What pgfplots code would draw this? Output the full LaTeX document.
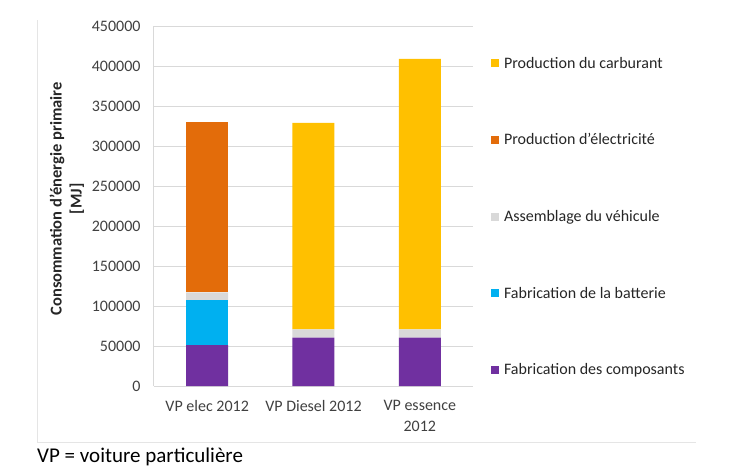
\documentclass[border=0pt]{standalone}
\usepackage{fontspec}
\setmainfont{Carlito}
\usepackage{pgfplots}
\pgfplotsset{compat=1.18}
\definecolor{cpurple}{HTML}{7030A0}
\definecolor{cblue}{HTML}{00B0F0}
\definecolor{cgray}{HTML}{D9D9D9}
\definecolor{corange}{HTML}{E36C0A}
\definecolor{cyellow}{HTML}{FFC000}
\definecolor{gridc}{HTML}{D9D9D9}
\definecolor{txt}{HTML}{404040}
\begin{document}
\begin{tikzpicture}
\useasboundingbox (0pt,0pt) rectangle (732pt,472pt);
\draw[color=black!10, line width=1pt] (37pt,452pt) -- (37pt,30pt) -- (696pt,30pt);
\begin{axis}[
  at={(154pt,86pt)}, anchor=south west,
  scale only axis, width=319pt, height=360pt,
  ybar stacked, bar width=42pt,
  xmin=-0.5, xmax=2.5, ymin=0, ymax=450000,
  xtick={0,1,2}, xticklabels={VP elec 2012, VP Diesel 2012, {VP essence\\2012}},
  xticklabel style={align=center, font=\fontsize{16}{20.5}\selectfont, text=txt, yshift=-11pt},
  extra x ticks={-0.5,0.5,1.5,2.5}, extra x tick labels={},
  extra x tick style={major tick length=5pt, tick style={draw=gridc}, grid=none},
  major x tick style={draw=none},
  ytick={0,50000,...,450000},
  scaled y ticks=false,
  yticklabel style={/pgf/number format/fixed, /pgf/number format/1000 sep={}, /pgf/number format/assume math mode=true, font=\fontsize{16}{20}\selectfont, text=txt},
  ymajorgrids, grid style={gridc, line width=1pt},
  major tick length=4pt,
  tick style={gridc, line width=1pt},
  y tick label style={xshift=-10pt},
  axis x line*=bottom, axis y line*=left,
  axis line style={gridc, line width=1pt},
  x axis line style={-}, y axis line style={-},
  ylabel={Consommation d'énergie primaire\\{[MJ]}},
  ylabel style={align=center, font=\bfseries\fontsize{16.5}{20}\selectfont, text=black!85, at={(axis description cs:-0.273,0.52)}, anchor=center},
  legend style={at={(axis description cs:1.056,0.92)}, anchor=north west, draw=none, fill=none,
    font=\fontsize{16}{20}\selectfont, text=black!85, row sep=60pt, inner sep=0pt, legend cell align=left},
  legend image code/.code={\fill[#1] (0pt,-4pt) rectangle (8pt,4pt); \path (11pt,0pt);},
  reverse legend,
]
\addplot[fill=cpurple, draw=none] coordinates {(0,51000) (1,60500) (2,60500)};
\addlegendentry{Fabrication des composants}
\addplot[fill=cblue, draw=none] coordinates {(0,56500) (1,0) (2,0)};
\addlegendentry{Fabrication de la batterie}
\addplot[fill=cgray, draw=none] coordinates {(0,9500) (1,10300) (2,10300)};
\addlegendentry{Assemblage du véhicule}
\addplot[fill=corange, draw=none] coordinates {(0,212600) (1,0) (2,0)};
\addlegendentry{Production d'électricité}
\addplot[fill=cyellow, draw=none] coordinates {(0,0) (1,258000) (2,338000)};
\addlegendentry{Production du carburant}
\end{axis}
\node[anchor=base west, font=\fontsize{21}{24}\selectfont, inner sep=0pt] at (37pt,10pt) {VP = voiture particulière};
\end{tikzpicture}
\end{document}
